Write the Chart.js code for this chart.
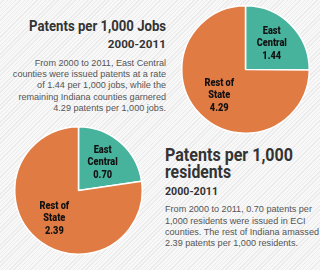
<!DOCTYPE html>
<html>
<head>
<meta charset="utf-8">
<script src="https://cdn.jsdelivr.net/npm/chart.js@4"></script>
<style>
  body {
    margin: 0;
    width: 320px;
    height: 270px;
    overflow: hidden;
    background: repeating-linear-gradient(135deg, #f8f8f8 0px, #f8f8f8 2px, #ebebeb 2px, #ebebeb 3px);
    position: relative;
    font-family: "Liberation Sans", Arial, sans-serif;
  }
  .pie { position: absolute; }
  .title {
    position: absolute;
    font-family: Roboto, sans-serif;
    font-weight: bold;
    color: #333;
    white-space: nowrap;
    line-height: 1;
  }
  .desc {
    position: absolute;
    font-size: 9.1px;
    line-height: 11.3px;
    color: #555;
    white-space: nowrap;
  }
</style>
</head>
<body>
<div class="title fit" data-w="137" style="right:154px; top:20px; font-size:14.5px; transform-origin:right;">Patents per 1,000 Jobs</div>
<div class="title fit" data-w="58" style="right:154px; top:38.5px; font-size:11px; transform-origin:right;">2000-2011</div>
<div class="desc" style="right:154px; top:57.7px; text-align:right;">From 2000 to 2011, East Central<br>counties were issued patents at a rate<br>of 1.44 per 1,000 jobs, while the<br>remaining Indiana counties garnered<br>4.29 patents per 1,000 jobs.</div>

<div class="pie" style="left:178px; top:2px; width:135px; height:135px;"><canvas id="jobsPie"></canvas></div>
<div class="pie" style="left:10.5px; top:122.5px; width:135px; height:135px;"><canvas id="residentsPie"></canvas></div>

<div class="title fit" data-w="128" style="left:165px; top:145.5px; font-size:18px; transform-origin:left;">Patents per 1,000</div>
<div class="title fit" data-w="66" style="left:165px; top:163px; font-size:18px; transform-origin:left;">residents</div>
<div class="title fit" data-w="53" style="left:165px; top:186px; font-size:11px; transform-origin:left;">2000-2011</div>
<div class="desc" style="left:165px; top:204.4px;">From 2000 to 2011, 0.70 patents per<br>1,000 residents were issued in ECI<br>counties. The rest of Indiana amassed<br>2.39 patents per 1,000 residents.</div>

<script>
const categories = ['East Central', 'Rest of State'];
const labelLines = [['East', 'Central'], ['Rest of', 'State']];
const jobsValues = [1.44, 4.29];
const residentsValues = [0.70, 2.39];
const sliceColors = ['#47b39d', '#e07b43'];

// squeeze the headings to look like the condensed face in the original
document.querySelectorAll('.fit').forEach(el => {
    const w = el.getBoundingClientRect().width;
    el.style.transform = 'scaleX(' + (el.dataset.w / w) + ')';
});

// writes the category and value inside each slice
const sliceLabels = {
    id: 'sliceLabels',
    afterDatasetsDraw(chart) {
        const ctx = chart.ctx;
        const ds = chart.data.datasets[0];
        chart.getDatasetMeta(0).data.forEach((arc, i) => {
            const mid = (arc.startAngle + arc.endAngle) / 2;
            const r = arc.outerRadius * 0.58;
            const x = arc.x + Math.cos(mid) * r;
            const y = arc.y + Math.sin(mid) * r;
            const lines = labelLines[i].concat([ds.data[i].toFixed(2)]);
            ctx.save();
            ctx.translate(x, y);
            ctx.scale(0.8, 1);
            ctx.fillStyle = '#111';
            ctx.font = '900 11.5px Roboto, sans-serif';
            ctx.textAlign = 'center';
            ctx.textBaseline = 'middle';
            lines.forEach((line, j) => {
                ctx.fillText(line, 0, (j - 1) * 12.5);
            });
            ctx.restore();
        });
    }
};

function makePie(id, values) {
    new Chart(document.getElementById(id), {
        type: 'pie',
        data: {
            labels: categories,
            datasets: [{
                data: values,
                backgroundColor: sliceColors,
                borderColor: '#ffffff',
                borderWidth: 1.5
            }]
        },
        options: {
            responsive: true,
            maintainAspectRatio: false,
            animation: false,
            layout: { padding: 3 },
            plugins: {
                legend: { display: false },
                tooltip: { enabled: false }
            }
        },
        plugins: [sliceLabels]
    });
}

makePie('jobsPie', jobsValues);
makePie('residentsPie', residentsValues);
</script>
</body>
</html>
